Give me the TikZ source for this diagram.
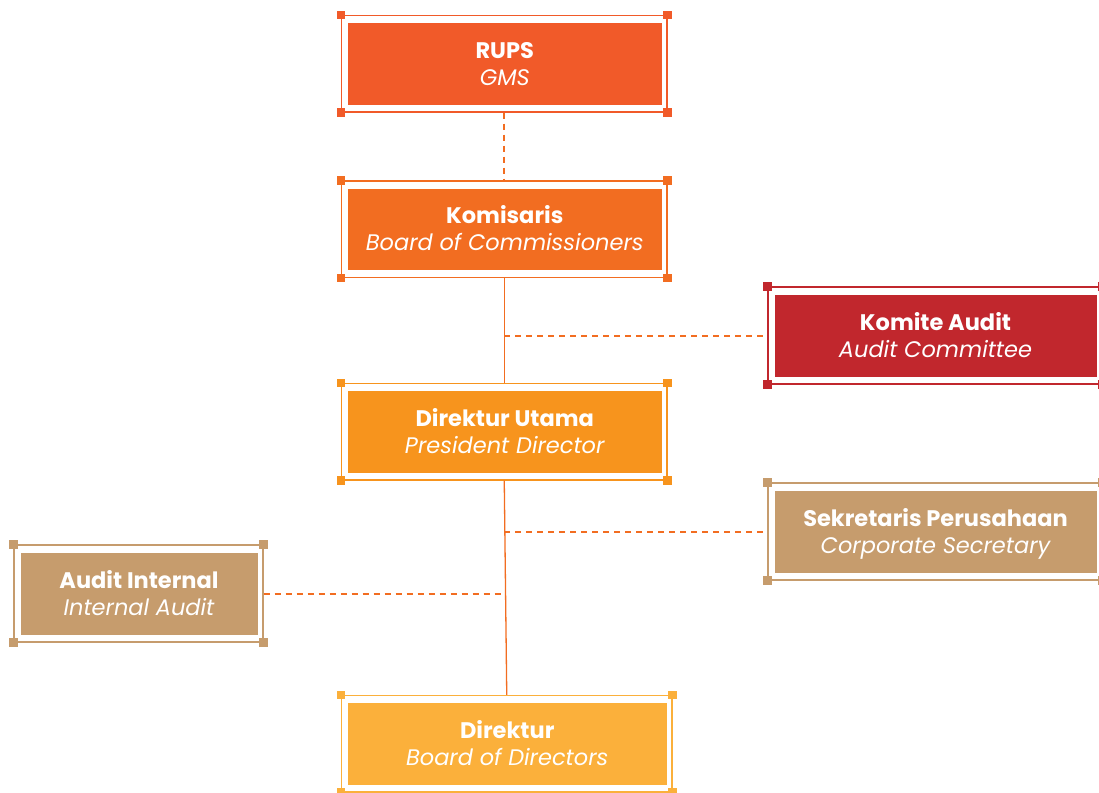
\documentclass[tikz,border=0pt]{standalone}
\usepackage{fontspec}
\setmainfont{Poppins}
\usetikzlibrary{fit}
\definecolor{rupsc}{HTML}{F15A29}
\definecolor{komc}{HTML}{F26D21}
\definecolor{duc}{HTML}{F7941D}
\definecolor{dirc}{HTML}{FBB03B}
\definecolor{komac}{HTML}{C1272D}
\definecolor{tanc}{HTML}{C69C6D}
\definecolor{lineor}{HTML}{F26D21}
\tikzset{
  framebox/.style={draw=#1, line width=1.1pt, inner sep=0pt},
  innerbox/.style={fill=#1, inner sep=0pt},
  titletext/.style={text=white, inner sep=0pt, anchor=base,
    font=\fontsize{22.5}{27}\selectfont\bfseries},
  subtext/.style={text=white, inner sep=0pt, anchor=base,
    font=\fontsize{22.5}{27}\selectfont\itshape},
  cornersq/.style={fill=#1, minimum size=8.5pt, inner sep=0pt},
  orgdash/.style={color=lineor, line width=2pt, dash pattern=on 6pt off 5pt},
  orgsolid/.style={color=lineor, line width=1.3pt}
}
\newcommand{\orgbox}[8]{%
  \node[framebox=#6, fit={(#2,#3) (#4,#5)}] (#1-f) {};
  \node[innerbox=#6, fit={(#2+6.5,#3+7.5) (#4-5.5,#5-7.5)}] (#1) {};
  \node[titletext, yshift=5.5pt] (#1-t) at (#1.center) {#7};
  \node[subtext, yshift=-21.5pt] (#1-s) at (#1.center) {#8};
  \foreach \a in {north west,north east,south west,south east}
    \node[cornersq=#6] at (#1-f.\a) {};
}
\begin{document}
\begin{tikzpicture}[x=1pt,y=-1pt]
\useasboundingbox (0,0) rectangle (1099,792);
\clip (0,0) rectangle (1099,792);
\orgbox{rups}{341.5}{15.5}{667}{112}{rupsc}{RUPS}{GMS}
\orgbox{kom}{341.5}{181}{667}{277.5}{komc}{Komisaris}{Board of Commissioners}
\orgbox{du}{341.5}{383.5}{667}{480}{duc}{Direktur Utama}{President Director}
\orgbox{dir}{341.5}{695.5}{672}{792}{dirc}{Direktur}{Board of Directors}
\orgbox{koma}{768}{287}{1102}{384}{komac}{Komite Audit}{Audit Committee}
\orgbox{sek}{768}{483}{1102}{580}{tanc}{Sekretaris Perusahaan}{Corporate Secretary}
\orgbox{ai}{14}{545}{263}{642}{tanc}{Audit Internal}{Internal Audit}
\draw[orgdash] (rups-f.south) -- (kom-f.north);
\draw[orgsolid] (kom-f.south) -- (du-f.north);
\draw[orgdash] (kom-f.south |- koma-f.west) -- (koma-f.west);
\draw[orgsolid] (du-f.south) -- (dir-f.north);
\draw[orgdash] (du-f.south |- sek-f.west) -- (sek-f.west);
\draw[orgdash] (ai-f.east) -- (du-f.south |- ai-f.east);
\end{tikzpicture}
\end{document}
